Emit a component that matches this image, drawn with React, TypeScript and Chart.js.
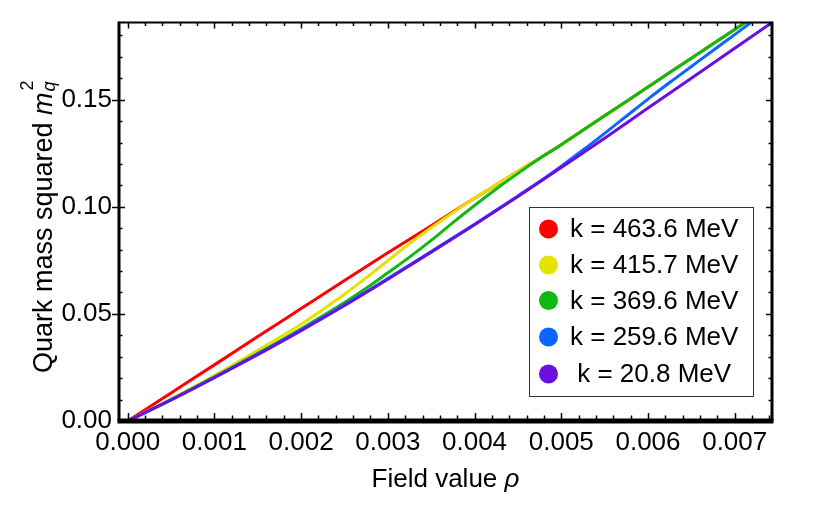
import React, { useEffect, useRef } from "react";
import { Chart, registerables } from "chart.js";

Chart.register(...registerables);

// ---------- data ----------
const seriesLabels = ["k = 463.6 MeV", "k = 415.7 MeV", "k = 369.6 MeV", "k = 259.6 MeV", " k = 20.8 MeV"];
const seriesColors = ["#ff0000", "#e6e200", "#12b812", "#0b66ff", "#6a0fe0"];

const rho_k463 = [0, 0.0005, 0.001, 0.0015, 0.002, 0.0025, 0.003, 0.0035, 0.004, 0.0045, 0.005, 0.0055, 0.006, 0.0065, 0.007, 0.0075];
const m2_k463 = [0, 0.0131, 0.0262, 0.0394, 0.0525, 0.0656, 0.0785, 0.0912, 0.1040, 0.1165, 0.1290, 0.1425, 0.1559, 0.1694, 0.1828, 0.1962];

const rho_k415 = [0, 0.0005, 0.001, 0.0015, 0.002, 0.0025, 0.00275, 0.003, 0.00325, 0.0035, 0.00375, 0.004, 0.0045, 0.005, 0.0055, 0.006, 0.0065, 0.007, 0.0075];
const m2_k415 = [0, 0.0102, 0.0212, 0.0330, 0.0452, 0.0592, 0.0668, 0.0748, 0.0828, 0.0902, 0.0972, 0.1040, 0.1165, 0.1290, 0.1425, 0.1559, 0.1694, 0.1828, 0.1962];

const rho_k369 = [0, 0.0005, 0.001, 0.0015, 0.002, 0.0025, 0.00275, 0.003, 0.00325, 0.0035, 0.00375, 0.004, 0.00425, 0.0045, 0.00475, 0.005, 0.0055, 0.006, 0.0065, 0.007, 0.0075];
const m2_k369 = [0, 0.0100, 0.0206, 0.0316, 0.0431, 0.0553, 0.0620, 0.0692, 0.0765, 0.0843, 0.0926, 0.1006, 0.1083, 0.1156, 0.1225, 0.1290, 0.1425, 0.1559, 0.1694, 0.1828, 0.1962];

const rho_k259 = [0, 0.0005, 0.001, 0.0015, 0.002, 0.0025, 0.003, 0.0035, 0.004, 0.0045, 0.00475, 0.005, 0.00525, 0.0055, 0.00575, 0.006, 0.00625, 0.0065, 0.00675, 0.007, 0.0075];
const m2_k259 = [0, 0.0099, 0.0204, 0.0312, 0.0425, 0.0542, 0.0665, 0.0791, 0.0919, 0.1051, 0.1118, 0.1190, 0.1265, 0.1343, 0.1423, 0.1503, 0.1580, 0.1655, 0.1730, 0.1804, 0.1955];

const rho_k20 = [0, 0.0005, 0.001, 0.0015, 0.002, 0.0025, 0.003, 0.0035, 0.004, 0.0045, 0.005, 0.0055, 0.006, 0.0065, 0.007, 0.0075];
const m2_k20 = [0, 0.0098, 0.0202, 0.0310, 0.0422, 0.0539, 0.0662, 0.0788, 0.0916, 0.1048, 0.1183, 0.1320, 0.1461, 0.1600, 0.1740, 0.1880];

const seriesRho = [rho_k463, rho_k415, rho_k369, rho_k259, rho_k20];
const seriesValues = [m2_k463, m2_k415, m2_k369, m2_k259, m2_k20];

const xMin = -0.0001;
const xMax = 0.00743;
const yMin = 0;
const yMax = 0.186;
const xMajorTicks = [0, 0.001, 0.002, 0.003, 0.004, 0.005, 0.006, 0.007];
const yMajorTicks = [0, 0.05, 0.1, 0.15];
const xMinorStep = 0.0002;
const yMinorStep = 0.01;

const FONT = '"Liberation Sans", Arial, Helvetica, sans-serif';
const TICK_FS = 26;
const TITLE_FS = 27;

const framePlugin = {
  id: "frameTicks",
  afterDatasetsDraw(chart: any) {
    const { ctx, chartArea } = chart;
    const { left, right, top, bottom } = chartArea;
    const xs = chart.scales.x;
    const ys = chart.scales.y;
    ctx.save();
    ctx.strokeStyle = "#000";
    ctx.lineWidth = 1.5;
    for (let i = 0; i * xMinorStep <= xMax + 1e-9; i++) {
      const v = i * xMinorStep;
      const px = Math.round(xs.getPixelForValue(v)) + 0.5;
      if (px < left || px > right) continue;
      const isMajor = xMajorTicks.some((t) => Math.abs(t - v) < 1e-9);
      const len = isMajor ? 6 : 3.5;
      ctx.beginPath();
      ctx.moveTo(px, bottom);
      ctx.lineTo(px, bottom - len - 2);
      ctx.moveTo(px, top);
      ctx.lineTo(px, top + len);
      ctx.stroke();
    }
    for (let i = 0; i * yMinorStep <= yMax + 1e-9; i++) {
      const v = i * yMinorStep;
      const py = Math.round(ys.getPixelForValue(v)) + 0.5;
      if (py < top || py > bottom) continue;
      const isMajor = yMajorTicks.some((t) => Math.abs(t - v) < 1e-9);
      const len = isMajor ? 6 : 3.5;
      ctx.beginPath();
      ctx.moveTo(isMajor ? left - 7 : left, py);
      ctx.lineTo(left + len, py);
      ctx.moveTo(right, py);
      ctx.lineTo(right - len, py);
      ctx.stroke();
    }
    // frame
    ctx.lineWidth = 2;
    ctx.beginPath();
    ctx.moveTo(left, top);
    ctx.lineTo(right, top);
    ctx.stroke();
    ctx.lineWidth = 3;
    ctx.beginPath();
    ctx.moveTo(left, top - 1);
    ctx.lineTo(left, bottom);
    ctx.moveTo(right, top - 1);
    ctx.lineTo(right, bottom);
    ctx.stroke();
    ctx.lineWidth = 5;
    ctx.beginPath();
    ctx.moveTo(left - 1.5, bottom);
    ctx.lineTo(right + 1.5, bottom);
    ctx.stroke();
    ctx.restore();
  },
  afterDraw(chart: any) {
    const { ctx, chartArea } = chart;
    const { left, right, top, bottom } = chartArea;
    ctx.save();
    ctx.fillStyle = "#000";
    ctx.textBaseline = "alphabetic";
    ctx.textAlign = "left";

    // x title
    const p1 = "Field value ";
    ctx.font = `${TICK_FS}px ${FONT}`;
    const w1 = ctx.measureText(p1).width;
    ctx.font = `italic ${TICK_FS}px ${FONT}`;
    const w2 = ctx.measureText("ρ").width;
    const cx = (left + right) / 2;
    const sx = cx - (w1 + w2) / 2;
    ctx.font = `${TICK_FS}px ${FONT}`;
    ctx.fillText(p1, sx, 487);
    ctx.font = `italic ${TICK_FS}px ${FONT}`;
    ctx.fillText("ρ", sx + w1, 487);

    // y title (rotated)
    const cy = (top + bottom) / 2 + 5;
    ctx.translate(52, cy);
    ctx.rotate(-Math.PI / 2);
    const q1 = "Quark mass squared ";
    ctx.font = `${TITLE_FS}px ${FONT}`;
    const a = ctx.measureText(q1).width;
    ctx.font = `italic ${TITLE_FS}px ${FONT}`;
    const b = ctx.measureText("m").width;
    ctx.font = `italic 18px ${FONT}`;
    const c = ctx.measureText("q").width;
    const total = a + b + c + 2;
    let tx = -total / 2;
    ctx.font = `${TITLE_FS}px ${FONT}`;
    ctx.fillText(q1, tx, 0);
    tx += a;
    ctx.font = `italic ${TITLE_FS}px ${FONT}`;
    ctx.fillText("m", tx, 0);
    tx += b + 1;
    ctx.font = `italic 18px ${FONT}`;
    ctx.fillText("q", tx, 3);
    ctx.font = `18px ${FONT}`;
    ctx.fillText("2", tx + 1, -19);
    ctx.setTransform(1, 0, 0, 1, 0, 0);

    // legend box
    const bx = 529.5, by = 207.5, bw = 224, bh = 189;
    ctx.fillStyle = "#fff";
    ctx.fillRect(bx, by, bw, bh);
    ctx.strokeStyle = "#333";
    ctx.lineWidth = 1;
    ctx.strokeRect(bx, by, bw, bh);
    const rowY = [229, 265, 300.5, 337, 374];
    chart.data.datasets.forEach((ds: any, i: number) => {
      const yy = rowY[i];
      ctx.beginPath();
      ctx.arc(548.5, yy, 9.5, 0, Math.PI * 2);
      ctx.fillStyle = ds.borderColor;
      ctx.fill();
      ctx.fillStyle = "#000";
      ctx.font = `${TICK_FS}px ${FONT}`;
      ctx.textBaseline = "middle";
      ctx.textAlign = "left";
      ctx.fillText(ds.label, 570, yy + 1);
    });
    ctx.restore();
  },
};

export default function App() {
  const ref = useRef<HTMLCanvasElement | null>(null);
  useEffect(() => {
    if (!ref.current) return;
    const datasets = seriesValues.map((vals, i) => ({
      label: seriesLabels[i],
      data: seriesRho[i].map((r, j) => ({ x: r, y: vals[j] })),
      borderColor: seriesColors[i],
      backgroundColor: seriesColors[i],
      borderWidth: 3,
      pointRadius: 0,
      showLine: true,
      fill: false,
      cubicInterpolationMode: "monotone" as const,
      order: seriesValues.length - i,
    }));
    const chart = new Chart(ref.current, {
      type: "scatter",
      data: { datasets },
      options: {
        animation: false,
        responsive: false,
        maintainAspectRatio: false,
        devicePixelRatio: 1,
        layout: { padding: { left: 0, top: 18, right: 58, bottom: 0 } },
        plugins: {
          legend: { display: false },
          tooltip: { enabled: false },
          title: { display: false },
        },
        scales: {
          x: {
            type: "linear",
            min: xMin,
            max: xMax,
            grid: { display: false, drawTicks: false },
            border: { display: false },
            afterFit: (s: any) => {
              s.height = 89;
            },
            ticks: {
              stepSize: 0.001,
              includeBounds: false,
              autoSkip: false,
              maxRotation: 0,
              padding: 6,
              color: "#000",
              font: { family: FONT, size: TICK_FS },
              callback: (v: any) => Number(v).toFixed(3),
            },
          },
          y: {
            type: "linear",
            min: yMin,
            max: yMax,
            grid: { display: false, drawTicks: false },
            border: { display: false },
            afterFit: (s: any) => {
              s.width = 119;
            },
            ticks: {
              stepSize: 0.05,
              includeBounds: false,
              padding: 7,
              color: "#000",
              font: { family: FONT, size: TICK_FS },
              callback: (v: any) => Number(v).toFixed(2),
            },
          },
        },
      },
      plugins: [framePlugin],
    });
    return () => chart.destroy();
  }, []);
  return (
    <div style={{ position: "fixed", left: 0, top: 0, width: 830, height: 510, background: "#fff" }}>
      <canvas ref={ref} width={830} height={510} style={{ width: 830, height: 510 }} />
    </div>
  );
}
